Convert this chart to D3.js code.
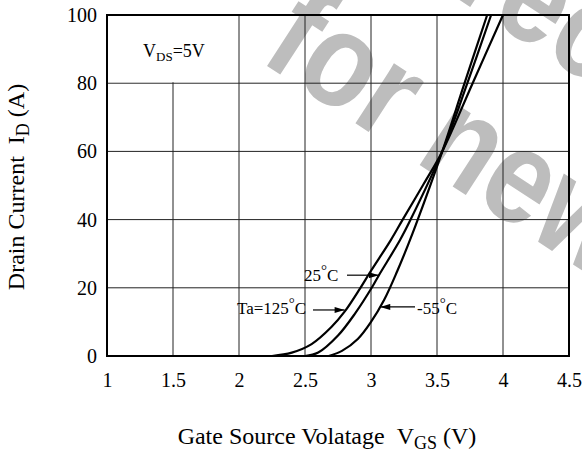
<!DOCTYPE html>
<html>
<head>
<meta charset="utf-8">
<script src="https://cdn.jsdelivr.net/npm/d3@7"></script>
<style>
  body { margin: 0; background: #fff; }
  .serif { font-family: "Liberation Serif", "DejaVu Serif", serif; fill: #000; }
</style>
</head>
<body>
<div id="chart"></div>
<script>
// transfer characteristics, VGS (V) vs ID (A)
var xTicks = [1, 1.5, 2, 2.5, 3, 3.5, 4, 4.5];
var yTicks = [0, 20, 40, 60, 80, 100];

var vgs125 = [2.25, 2.4, 2.55, 2.7, 2.8, 2.92, 3.0, 3.15, 3.24, 3.4, 3.54, 3.77, 4.0];
var id125  = [0, 1, 3.5, 8.5, 13, 20, 25, 34, 40, 50.5, 60, 80, 100];

var vgs25 = [2.5, 2.6, 2.75, 2.88, 3.01, 3.06, 3.22, 3.3, 3.54, 3.73, 3.91];
var id25  = [0, 1, 6, 12.5, 20.3, 23.7, 34, 40, 60, 80, 100];

var vgs55 = [2.68, 2.78, 2.9, 3.0, 3.1, 3.2, 3.28, 3.34, 3.54, 3.7, 3.88];
var id55  = [0, 1.5, 5, 10, 16.5, 25, 32.5, 38.5, 60, 79, 100];

var W = 582, H = 461;
var svg = d3.select("#chart").append("svg")
  .attr("width", W)
  .attr("height", H);

var x = d3.scaleLinear().domain([1, 4.5]).range([107, 569]);
var y = d3.scaleLinear().domain([0, 100]).range([356, 15]);

// watermark behind everything
var wm = svg.append("g").attr("transform", "translate(258,60) rotate(33) scale(0.85,1)");
function wmText(tx, ty, s) {
  wm.append("text").attr("x", tx).attr("y", ty)
    .style("font-family", "'Liberation Sans', 'DejaVu Sans', sans-serif")
    .style("font-weight", "bold")
    .style("font-size", "135px")
    .style("fill", "#bdbdbd")
    .text(s);
}
wmText(0, 0, "for new designs");
wmText(-115, -160, "Not recommended");

// grid
svg.append("g").selectAll("line").data(xTicks).enter().append("line")
  .attr("x1", d => x(d)).attr("x2", d => x(d))
  .attr("y1", y(0)).attr("y2", y(100))
  .attr("stroke", "#222").attr("stroke-width", 1);
svg.append("g").selectAll("line").data(yTicks).enter().append("line")
  .attr("x1", x(1)).attr("x2", x(4.5))
  .attr("y1", d => y(d)).attr("y2", d => y(d))
  .attr("stroke", "#222").attr("stroke-width", 1);

// white box for the VDS label
svg.append("rect")
  .attr("x", x(1)).attr("y", y(100))
  .attr("width", x(2) - x(1) - 1).attr("height", y(80) - y(100) - 1)
  .attr("fill", "#fff");

var vds = svg.append("text").attr("class", "serif").attr("x", 143).attr("y", 57).style("font-size", "18px");
vds.append("tspan").text("V");
vds.append("tspan").attr("dy", 4).style("font-size", "13px").text("DS");
vds.append("tspan").attr("dy", -4).text("=5V");

// axes
var xAxis = d3.axisBottom(x).tickValues(xTicks).tickSize(0).tickPadding(17).tickFormat(d => String(d));
var yAxis = d3.axisLeft(y).tickValues(yTicks).tickSize(0).tickPadding(10).tickFormat(d => String(d));
svg.append("g").attr("transform", "translate(0," + y(0) + ")").call(xAxis)
  .call(g => g.select(".domain").remove())
  .selectAll("text").attr("class", "serif").style("font-size", "20px");
svg.append("g").attr("transform", "translate(" + x(1) + ",0)").call(yAxis)
  .call(g => g.select(".domain").remove())
  .selectAll("text").attr("class", "serif").style("font-size", "20px");

// frame
svg.append("rect")
  .attr("x", x(1)).attr("y", y(100))
  .attr("width", x(4.5) - x(1)).attr("height", y(0) - y(100))
  .attr("fill", "none").attr("stroke", "#000").attr("stroke-width", 2);

// curves
var line = d3.line().x(d => x(d[0])).y(d => y(d[1])).curve(d3.curveCatmullRom.alpha(0.5));
[[vgs125, id125], [vgs25, id25], [vgs55, id55]].forEach(function (s) {
  svg.append("path")
    .datum(s[0].map((v, i) => [v, s[1][i]]))
    .attr("d", line)
    .attr("fill", "none")
    .attr("stroke", "#000")
    .attr("stroke-width", 2.2);
});

// annotations
svg.append("defs").append("marker")
  .attr("id", "arr").attr("viewBox", "0 0 10 6")
  .attr("refX", 10).attr("refY", 3)
  .attr("markerWidth", 11).attr("markerHeight", 6)
  .attr("markerUnits", "userSpaceOnUse")
  .attr("orient", "auto")
  .append("path").attr("d", "M0,0L10,3L0,6Z").attr("fill", "#000");

function label(tx, ty, main, x1, x2, yy) {
  var t = svg.append("text").attr("class", "serif").attr("x", tx).attr("y", ty).style("font-size", "17px");
  t.append("tspan").text(main);
  t.append("tspan").attr("dy", -6).style("font-size", "15px").text("\u00b0");
  t.append("tspan").attr("dy", 6).text("C");
  svg.append("line")
    .attr("x1", x1).attr("x2", x2).attr("y1", yy).attr("y2", yy)
    .attr("stroke", "#000").attr("stroke-width", 1.2)
    .attr("marker-end", "url(#arr)");
}
label(304, 281, "25", 347, x(3.06), y(23.7));
label(237, 314, "Ta=125", 313, x(2.8), y(13.5));
label(417, 314, "-55", 415, x(3.07), y(14.4));

// axis titles
var xt = svg.append("text").attr("class", "serif").attr("x", 327).attr("y", 444)
  .attr("text-anchor", "middle").style("font-size", "24px");
xt.append("tspan").text("Gate Source Volatage\u00a0\u00a0V");
xt.append("tspan").attr("dy", 5).style("font-size", "18px").text("GS");
xt.append("tspan").attr("dy", -5).text(" (V)");

var yt = svg.append("text").attr("class", "serif")
  .attr("transform", "translate(24,187) rotate(-90)")
  .attr("text-anchor", "middle").style("font-size", "24px");
yt.append("tspan").text("Drain Current\u00a0\u00a0I");
yt.append("tspan").attr("dy", 5).style("font-size", "18px").text("D");
yt.append("tspan").attr("dy", -5).text(" (A)");
</script>
</body>
</html>
